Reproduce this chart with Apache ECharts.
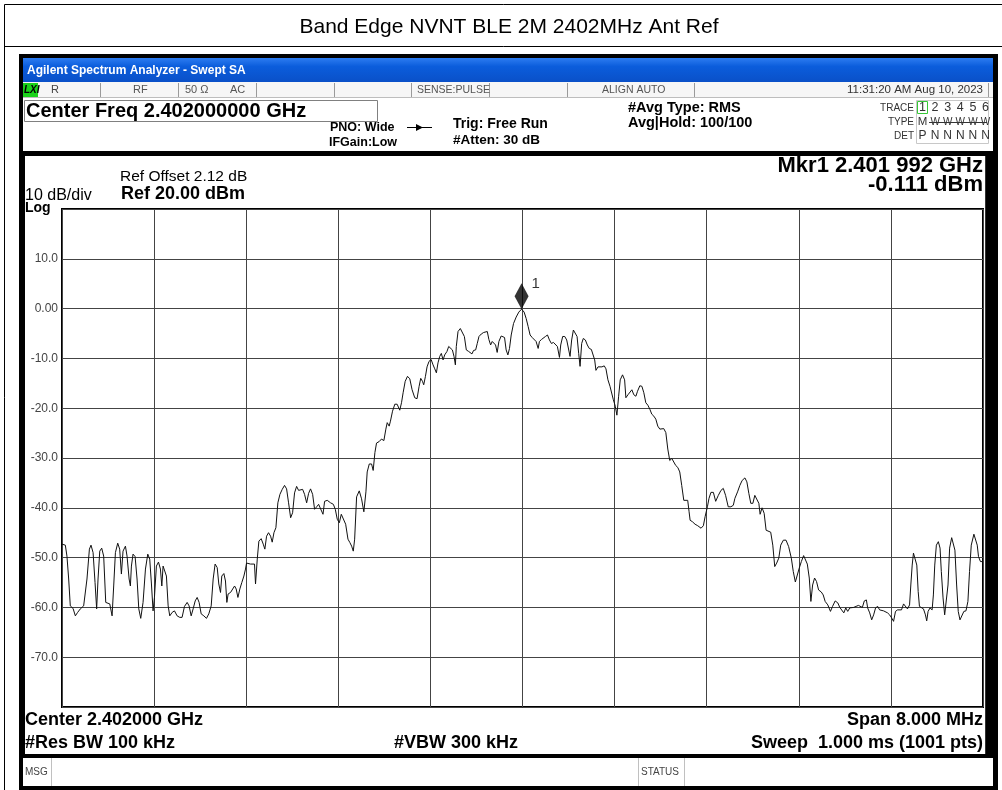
<!DOCTYPE html>
<html><head><meta charset="utf-8">
<script src="https://cdn.jsdelivr.net/npm/echarts/dist/echarts.min.js"></script>
<style>html,body{margin:0;padding:0;background:#fff}#c{width:1002px;height:790px}</style>
</head><body><div id="c"></div>
<script>
// ---- data ----
const titleText = 'Band Edge NVNT BLE 2M 2402MHz Ant Ref';
const startMHz = 2398;          // center 2402 MHz, span 8 MHz
const spanMHz = 8;
const freqOffsetMHz = [
0.000,0.009,0.029,0.043,0.058,0.072,0.096,0.116,0.136,0.159,0.188,0.203,0.217,0.238,0.252,0.270,0.287,0.301,0.313,0.328,
0.345,0.362,0.380,0.397,0.415,0.435,0.449,0.464,0.484,0.501,0.516,0.530,0.551,0.565,0.583,0.594,0.603,0.617,0.635,0.652,
0.667,0.684,0.704,0.725,0.745,0.762,0.777,0.791,0.803,0.820,0.838,0.855,0.867,0.878,0.893,0.907,0.922,0.936,0.957,0.977,
1.000,1.023,1.043,1.064,1.087,1.104,1.122,1.139,1.157,1.174,1.191,1.209,1.232,1.255,1.275,1.296,1.313,1.330,1.348,1.362,
1.377,1.388,1.406,1.420,1.432,1.443,1.464,1.481,1.499,1.513,1.528,1.545,1.562,1.580,1.594,1.603,1.620,1.638,1.655,1.672,
1.681,1.696,1.710,1.730,1.748,1.762,1.777,1.794,1.812,1.826,1.841,1.858,1.875,1.893,1.913,1.933,1.951,1.968,1.986,2.003,
2.020,2.038,2.055,2.072,2.090,2.107,2.125,2.142,2.159,2.177,2.194,2.212,2.229,2.246,2.267,2.281,2.304,2.333,2.357,2.374,
2.391,2.409,2.426,2.443,2.464,2.484,2.501,2.516,2.530,2.542,
2.559,2.582,2.602,2.622,2.640,2.651,2.669,2.689,2.703,2.718,2.732,2.755,2.775,2.796,2.813,2.825,2.842,2.853,2.871,2.891,
2.911,2.934,2.949,2.963,2.981,3.001,3.021,3.041,3.064,3.084,3.102,3.116,3.131,3.142,3.157,3.171,3.188,3.206,3.223,3.238,
3.252,3.266,3.281,3.295,3.310,3.324,3.344,3.359,3.376,3.391,3.405,3.417,3.425,3.440,3.460,3.477,3.495,3.512,3.532,3.549,
3.561,3.575,3.593,3.607,3.622,3.642,3.662,3.679,3.694,3.708,3.723,3.737,3.752,3.766,3.780,3.795,3.815,3.830,3.844,3.858,
3.873,3.887,3.902,3.922,3.945,3.968,3.980,3.992,4.014,4.032,4.049,4.066,4.084,4.101,4.118,4.136,4.147,4.165,4.182,4.199,
4.217,4.234,4.251,4.269,4.286,4.303,4.321,4.332,4.349,4.367,4.384,4.401,4.413,4.427,4.442,4.459,4.474,4.488,4.500,4.514,
4.528,4.546,4.563,4.580,4.598,4.615,4.627,4.638,4.656,4.673,4.690,4.710,4.725,4.742,4.760,4.777,4.788,4.806,4.820,4.835,
4.849,4.869,4.887,4.898,4.916,4.933,4.950,4.967,4.985,4.999,5.019,5.037,5.054,5.071,5.089,5.106,5.123,5.141,5.158,5.175,
5.193,5.210,5.227,5.245,5.262,5.279,5.297,5.314,5.331,5.349,5.366,5.383,5.401,5.418,5.435,5.447,
5.456,5.476,5.499,5.522,5.551,5.571,5.586,5.606,5.620,5.637,5.658,5.678,5.701,5.724,5.744,5.764,5.787,5.810,5.831,5.845,
5.868,5.888,5.908,5.932,5.949,5.966,5.983,6.001,6.018,6.035,6.053,6.064,6.081,6.099,6.116,6.133,6.156,6.174,6.191,6.208,
6.226,6.243,6.266,6.289,6.312,6.335,6.352,6.370,6.387,6.404,6.422,6.442,6.459,6.474,6.491,6.505,6.520,6.537,6.554,6.572,
6.595,6.612,6.629,6.652,6.675,6.693,6.716,6.739,6.756,6.773,6.791,6.808,6.825,6.843,6.860,6.877,6.897,6.918,6.935,6.952,
6.969,6.987,6.998,7.016,7.033,7.050,7.067,7.085,7.102,7.119,7.137,7.154,7.171,7.189,7.206,7.223,7.240,7.258,7.275,7.292,
7.310,7.327,7.344,7.362,7.373,7.385,7.396,7.411,7.425,7.437,7.448,7.465,7.483,7.500,7.511,7.523,7.540,7.558,7.569,7.581,
7.595,7.612,7.627,7.638,7.653,7.667,7.684,7.696,7.710,7.728,7.742,7.756,7.771,7.785,7.800,7.817,7.834,7.852,7.869,7.883,
7.898,7.921,7.938,7.950,7.961,7.978,8.000
];
const levelDbm = [
-47.3,-47.3,-47.5,-49.7,-54.3,-59.7,-60.2,-61.7,-61.0,-60.3,-59.7,-59.8,-54.3,-48.3,-47.5,-49.0,-55.0,-60.3,-54.3,-48.7,
-48.1,-49.7,-59.0,-59.0,-59.3,-61.7,-55.7,-49.0,-47.1,-48.3,-53.3,-48.7,-47.7,-49.7,-54.3,-55.7,-51.7,-49.3,-49.8,-54.3,
-60.3,-62.2,-59.0,-52.3,-49.3,-50.3,-55.3,-60.7,-58.0,-51.7,-50.9,-52.3,-55.7,-51.7,-51.7,-53.7,-59.7,-61.7,-61.0,-60.7,
-61.7,-62.0,-62.0,-59.8,-59.0,-59.7,-61.7,-60.3,-58.7,-58.0,-59.0,-61.3,-61.7,-62.2,-61.3,-59.7,-54.3,-51.3,-52.0,-55.3,
-57.0,-53.7,-53.2,-54.7,-59.0,-57.3,-57.0,-57.3,-55.7,-56.3,-58.0,-56.3,-55.0,-53.7,-52.3,-51.1,-51.0,-51.3,-51.0,-51.3,
-55.3,-50.3,-46.7,-46.2,-47.3,-48.3,-45.7,-45.0,-45.7,-46.9,-45.0,-44.0,-39.0,-37.3,-36.3,-35.5,-36.2,-39.0,-42.0,-41.0,
-37.0,-35.7,-36.5,-36.7,-36.3,-37.3,-39.0,-37.1,-36.2,-37.3,-40.3,-39.8,-39.3,-39.7,-41.3,-38.7,-38.5,-39.0,-39.3,-40.3,
-42.3,-43.0,-41.3,-41.0,-43.3,-46.3,-47.0,-47.7,-48.7,-46.3,
-37.8,-36.6,-38.2,-40.8,-36.8,-32.8,-31.2,-31.2,-32.5,-28.9,-27.0,-26.7,-26.2,-26.5,-24.2,-22.9,-23.6,-22.6,-20.6,-19.2,
-19.2,-20.4,-18.9,-16.9,-14.6,-13.6,-14.1,-16.3,-17.9,-18.1,-15.6,-14.0,-14.6,-15.3,-13.6,-11.7,-10.6,-10.2,-11.3,-12.1,
-12.9,-10.9,-9.6,-9.0,-10.3,-9.3,-8.6,-7.6,-7.5,-8.3,-9.6,-11.3,-7.6,-4.6,-4.0,-4.0,-5.6,-8.3,-8.6,-8.3,
-9.1,-8.4,-8.3,-7.0,-5.6,-5.1,-4.8,-4.4,-4.6,-6.2,-7.3,-6.6,-6.3,-7.3,-8.8,-6.6,-5.5,-5.1,-5.8,-8.3,
-9.3,-8.0,-5.3,-3.0,-1.7,-0.7,-0.3,-0.111,-0.7,-2.0,-3.6,-5.3,-5.8,-5.6,-6.6,-8.0,-6.6,-6.2,-6.3,-5.6,
-5.3,-6.3,-7.0,-6.8,-7.1,-7.6,-9.8,-7.3,-5.6,-5.6,-6.3,-6.6,-9.6,-6.3,-4.3,-4.2,-5.6,-9.0,-11.6,-7.0,
-6.0,-6.3,-7.3,-8.0,-8.2,-8.6,-10.3,-12.4,-11.7,-11.3,-11.7,-11.5,-12.1,-14.3,-15.6,-15.7,-18.2,-19.6,-21.4,-17.6,
-14.3,-13.3,-14.3,-17.9,-17.3,-16.9,-16.3,-17.3,-17.6,-16.6,-15.5,-15.6,-16.9,-18.9,-19.4,-20.2,-21.2,-21.6,-22.2,-23.6,
-24.2,-24.6,-24.1,-24.9,-28.2,-30.5,-30.1,-30.5,-31.5,-31.9,-32.8,-35.5,-38.5,-38.8,-38.5,-40.8,
-42.5,-42.8,-43.3,-43.6,-44.1,-43.6,-41.8,-39.8,-38.1,-36.9,-36.9,-38.7,-37.5,-36.5,-36.1,-37.5,-39.8,-39.8,-39.5,-38.1,
-36.8,-35.5,-34.5,-34.0,-34.8,-37.1,-39.1,-39.1,-37.5,-37.3,-39.1,-41.3,-40.0,-41.1,-44.5,-44.8,-44.9,-47.5,-51.8,-51.1,
-50.1,-47.5,-46.5,-46.5,-47.8,-50.1,-52.8,-54.9,-53.5,-52.1,-50.8,-49.6,-49.5,-51.3,-54.1,-58.8,-55.5,-54.1,-54.8,-56.5,
-56.9,-57.5,-58.8,-59.5,-60.8,-59.8,-58.7,-59.1,-60.0,-60.1,-61.1,-60.1,-60.8,-60.1,-60.5,-60.0,-59.8,-59.6,-59.5,-60.0,
-58.7,-58.5,-60.1,-61.1,-62.5,-61.5,-60.1,-59.8,-60.5,-60.3,-60.7,-60.8,-61.1,-61.5,-62.1,-62.8,-60.8,-60.5,-60.3,-60.5,
-59.3,-59.1,-60.3,-59.5,-55.5,-51.5,-49.1,-49.1,-51.5,-56.8,-59.8,-59.8,-60.3,-61.5,-62.7,-60.8,-60.1,-60.5,-57.5,-51.5,
-47.5,-46.8,-48.1,-52.8,-58.1,-61.5,-61.8,-55.5,-48.1,-46.0,-46.0,-48.5,-55.5,-60.8,-62.5,-62.1,-60.8,-60.7,-58.8,-52.8,
-47.5,-45.3,-45.5,-47.5,-49.8,-50.8,-50.8
];
const markerOffsetMHz = 3.992;  // Mkr1 2.401 992 GHz
const markerLevelDbm = -0.111;
const yMin = -80, yMax = 20, yStep = 10;
const yTickLabels = {'10':'10.0','0':'0.00','-10':'-10.0','-20':'-20.0','-30':'-30.0','-40':'-40.0','-50':'-50.0','-60':'-60.0','-70':'-70.0'};
const traceNumbers = ['1','2','3','4','5','6'];
const traceTypes = ['M','W','W','W','W','W'];
const traceDets = ['P','N','N','N','N','N'];

// ---- drawing helpers for the analyzer window chrome ----
const SANS = "'Liberation Sans', Arial, sans-serif";
const G = [];
function R(x,y,w,h,fill,stroke,lw,z){G.push({type:'rect',silent:true,z:z==null?-10:z,shape:{x:x,y:y,width:w,height:h},style:{fill:fill||'none',stroke:stroke||null,lineWidth:lw||1}});}
function L(x1,y1,x2,y2,stroke,lw,z){G.push({type:'line',silent:true,z:z==null?-5:z,shape:{x1:x1,y1:y1,x2:x2,y2:y2},style:{stroke:stroke,lineWidth:lw||1}});}
function T(x,y,text,font,fill,align){G.push({type:'text',silent:true,z:20,x:x,y:y,style:{text:text,font:font,fill:fill||'#000',textAlign:align||'left',textVerticalAlign:'middle'}});}

// outer report box + title
L(4.5,4.5,1002,4.5,'#000',1);
L(4.5,4.5,4.5,790,'#000',1);
L(4.5,46.5,1002,46.5,'#000',1);
T(509,27,titleText,"21px "+SANS,'#000','center');

// analyzer window frame
R(19,54,979,736,'#000',null,1,-20);
G.push({type:'rect',silent:true,z:-10,shape:{x:23,y:58,width:970,height:24},style:{fill:new echarts.graphic.LinearGradient(0,0,0,1,[{offset:0,color:'#2d7cf0'},{offset:0.35,color:'#0b5ddc'},{offset:1,color:'#0a50c8'}])}});
T(27,71,'Agilent Spectrum Analyzer - Swept SA',"bold 12px "+SANS,'#fff','left');
// status row
R(23,82,970,16,'#f6f6f6',null,1,-10);
R(23,83,15,14,'#1ad21a',null,1,-9);
T(24,90,'LXI',"italic bold 10px "+SANS,'#000','left');
[100.5,178.5,256.5,334.5,411.5,489.5,567.5,694.5].forEach(function(x){L(x,83,x,97,'#9a9a9a',1);});
L(23,97.5,993,97.5,'#bdbdbd',1);
L(988.5,83,988.5,97,'#9a9a9a',1);
const stFont = "11px "+SANS;
T(51,90,'R',stFont,'#444','left');
T(133,90,'RF',stFont,'#555','left');
T(185,90,'50 \u03A9',stFont,'#555','left');
T(230,90,'AC',stFont,'#555','left');
T(417,90,'SENSE:PULSE',"10.5px "+SANS,'#555','left');
T(602,90,'ALIGN AUTO',"10.5px "+SANS,'#555','left');
T(983,90,'11:31:20 AM Aug 10, 2023',"11.5px "+SANS,'#333','right');
// header area
R(23,98,970,53,'#fff',null,1,-10);
R(24.5,100.5,353,21,'#fff','#808080',1,-9);
T(26,111,'Center Freq 2.402000000 GHz',"bold 20px "+SANS,'#000','left');
T(330,128,'PNO: Wide',"bold 12.5px "+SANS,'#000','left');
T(329,143,'IFGain:Low',"bold 12.5px "+SANS,'#000','left');
L(407,127.5,432,127.5,'#000',1,5);
G.push({type:'polygon',silent:true,z:5,shape:{points:[[416,124],[423,127.5],[416,131]]},style:{fill:'#000'}});
T(453,124,'Trig: Free Run',"bold 14px "+SANS,'#000','left');
T(453,140,'#Atten: 30 dB',"bold 13.5px "+SANS,'#000','left');
T(628,108,'#Avg Type: RMS',"bold 14.5px "+SANS,'#000','left');
T(628,123,'Avg|Hold: 100/100',"bold 14.5px "+SANS,'#000','left');
// trace table
R(916.5,100.5,72,43,'#fff','#c8c8c8',1,-9);
R(917.5,101.5,10,12,'none','#37c837',1,-8);
T(914,108,'TRACE',"10px "+SANS,'#333','right');
T(914,122,'TYPE',"10px "+SANS,'#333','right');
T(914,136,'DET',"10px "+SANS,'#333','right');
traceNumbers.forEach(function(s,i){T(922.5+i*12.6,108,s,"12.5px "+SANS,'#333','center');});
traceTypes.forEach(function(s,i){T(i===0?922.5:922.5+i*12.6,122,s,(i===0?"11.5px ":"10px ")+SANS,'#333','center');});
L(929,122.5,987,122.5,'#333',1,21);
traceDets.forEach(function(s,i){T(922.5+i*12.6,136,s,"12px "+SANS,'#333','center');});
// plot panel
R(25,156,961,598,'#fff',null,1,-10);
L(985.5,156,985.5,754,'#333',1,-8);
T(120,177,'Ref Offset 2.12 dB',"15.5px "+SANS,'#000','left');
T(121,194,'Ref 20.00 dBm',"bold 18px "+SANS,'#000','left');
T(25,196,'10 dB/div',"16px "+SANS,'#000','left');
T(25,208,'Log',"bold 14px "+SANS,'#000','left');
T(983,166,'Mkr1 2.401 992 GHz',"bold 22px "+SANS,'#000','right');
T(983,185,'-0.111 dBm',"bold 22px "+SANS,'#000','right');
T(25,720,'Center 2.402000 GHz',"bold 18px "+SANS,'#000','left');
T(25,743,'#Res BW 100 kHz',"bold 18px "+SANS,'#000','left');
T(394,743,'#VBW 300 kHz',"bold 18px "+SANS,'#000','left');
T(983,720,'Span 8.000 MHz',"bold 18px "+SANS,'#000','right');
T(983,743,'Sweep  1.000 ms (1001 pts)',"bold 18px "+SANS,'#000','right');
// message row
R(23,758,970,28,'#fff',null,1,-10);
L(51.5,758,51.5,786,'#c0c0c0',1);
L(638.5,758,638.5,786,'#c0c0c0',1);
L(684.5,758,684.5,786,'#c0c0c0',1);
T(25,772,'MSG',"10px "+SANS,'#444','left');
T(641,772,'STATUS',"10px "+SANS,'#444','left');

const traceData = freqOffsetMHz.map(function(f,i){return [f, levelDbm[i]];});

const chart = echarts.init(document.getElementById('c'), null, {renderer:'canvas'});
chart.setOption({
  animation:false,
  backgroundColor:'#fff',
  graphic: G,
  grid:{left:62,top:209,width:921,height:498,show:true,borderColor:'#000',borderWidth:2,backgroundColor:'transparent',containLabel:false},
  xAxis:{type:'value',min:0,max:spanMHz,interval:0.8,
    axisLine:{show:false},axisTick:{show:false},axisLabel:{show:false},
    splitLine:{show:true,lineStyle:{color:'#444',width:1}}},
  yAxis:{type:'value',min:yMin,max:yMax,interval:yStep,
    axisLine:{show:false},axisTick:{show:false},
    axisLabel:{show:true,margin:4,color:'#444',fontSize:12,fontFamily:SANS,
      formatter:function(v){return yTickLabels[String(v)]||'';}},
    splitLine:{show:true,lineStyle:{color:'#444',width:1}}},
  series:[
    {type:'line',data:traceData,showSymbol:false,symbol:'none',lineStyle:{color:'#111',width:1},z:3},
    {type:'scatter',data:[[markerOffsetMHz,markerLevelDbm]],symbol:'diamond',symbolSize:[14,26],symbolOffset:[0,-13],
      itemStyle:{color:'#000'},z:4,
      label:{show:true,formatter:'1',position:'right',distance:3,offset:[0,-12],color:'#000',fontSize:15,fontFamily:SANS}}
  ]
});
</script></body></html>
